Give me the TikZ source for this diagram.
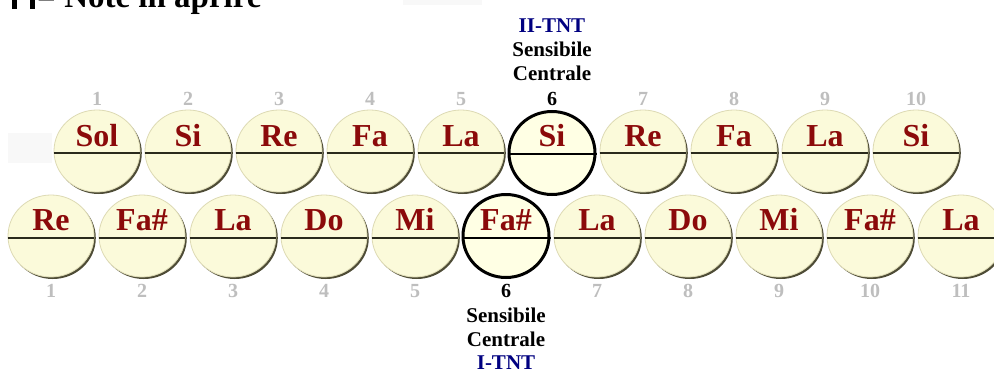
\documentclass[tikz,border=0pt]{standalone}
\usepackage{fontspec}
\setmainfont{Liberation Serif}
\usetikzlibrary{shapes.geometric}
\definecolor{notered}{HTML}{8B0A0A}
\definecolor{numgray}{HTML}{BEBEBE}
\definecolor{navyblue}{HTML}{000080}
\definecolor{cream}{HTML}{FBFADA}
\definecolor{creamhi}{HTML}{FFFFE4}
\definecolor{creamedge}{HTML}{DDDAB4}
\definecolor{rimdark}{HTML}{4E4C36}
\definecolor{divline}{HTML}{2A2A1C}
\definecolor{faint}{HTML}{F8F8F8}
\tikzset{
  btn/.style={ellipse, minimum width=86pt, minimum height=82pt, inner sep=0pt,
    fill=cream, draw=creamedge, line width=0.8pt},
  btnhl/.style={ellipse, minimum width=86pt, minimum height=83pt, inner sep=0pt,
    fill=creamhi, draw=black, line width=3pt},
  divider/.style={draw=divline, line width=2pt},
  dividerhl/.style={draw=black, line width=2.6pt},
  notetxt/.style={font=\fontsize{32}{32}\selectfont\bfseries, text=notered, inner sep=0pt, anchor=base},
  numtxt/.style={font=\fontsize{20}{20}\selectfont\bfseries, text=numgray, inner sep=0pt, anchor=base},
  numhl/.style={font=\fontsize{20}{20}\selectfont\bfseries, text=black, inner sep=0pt, anchor=base},
  lbl/.style={font=\fontsize{21}{21}\selectfont\bfseries, text=black, inner sep=0pt, anchor=base},
  lblblue/.style={font=\fontsize{21}{21}\selectfont\bfseries, text=navyblue, inner sep=0pt, anchor=base},
  titletxt/.style={font=\fontsize{33}{33}\selectfont\bfseries, text=black, inner sep=0pt, anchor=base west},
}
\begin{document}
\begin{tikzpicture}[x=1pt,y=-1pt]
\useasboundingbox[fill=white] (0,0) rectangle (994,372);
% faint background patches
\fill[faint] (8,133) rectangle (52,163);
\fill[faint] (403,0) rectangle (482,5);
% title (cut off at top, as in the reference)
\fill[black] (12,-20) rectangle (17,9);
\fill[black] (30,-20) rectangle (35,9);
\node[titletxt] (title) at (37,7) {= Note in aprire};
% top row
\foreach \n [count=\i] in {Sol,Si,Re,Fa,La,Si,Re,Fa,La,Si}{
  \pgfmathsetmacro\xx{97+91*(\i-1)}
  \ifnum\i=6
    \node[btnhl] (t\i) at (\xx,153) {};
    \draw[dividerhl] ([yshift=-1pt]t\i.west) -- ([yshift=-1pt]t\i.east);
    \node[numhl] (tn\i) at (\xx,105) {\i};
  \else
    \fill[rimdark] (\xx+1.8,151+2) ellipse [x radius=43, y radius=41];
    \node[btn] (t\i) at (\xx,151) {};
    \draw[divider] ([yshift=-2pt]t\i.west) -- ([yshift=-2pt]t\i.east);
    \node[numtxt] (tn\i) at (\xx,105) {\i};
  \fi
  \node[notetxt] (tt\i) at (\xx,146) {\n};
}
% bottom row
\foreach \n [count=\i] in {Re,Fa\#,La,Do,Mi,Fa\#,La,Do,Mi,Fa\#,La}{
  \pgfmathsetmacro\xx{51+91*(\i-1)}
  \ifnum\i=6
    \node[btnhl] (b\i) at (\xx,236) {};
    \draw[dividerhl] ([yshift=-2pt]b\i.west) -- ([yshift=-2pt]b\i.east);
    \node[numhl] (bn\i) at (\xx,297) {\i};
  \else
    \fill[rimdark] (\xx+1.8,236+2) ellipse [x radius=43, y radius=41];
    \node[btn] (b\i) at (\xx,236) {};
    \draw[divider] ([yshift=-2pt]b\i.west) -- ([yshift=-2pt]b\i.east);
    \node[numtxt] (bn\i) at (\xx,297) {\i};
  \fi
  \node[notetxt] (bt\i) at (\xx,230) {\n};
}
% labels top
\node[lblblue] (l1) at (552,32) {II-TNT};
\node[lbl] (l2) at (552,56) {Sensibile};
\node[lbl] (l3) at (552,80) {Centrale};
% labels bottom
\node[lbl] (l4) at (506,322) {Sensibile};
\node[lbl] (l5) at (506,346) {Centrale};
\node[lblblue] (l6) at (506,369) {I-TNT};
\end{tikzpicture}
\end{document}
